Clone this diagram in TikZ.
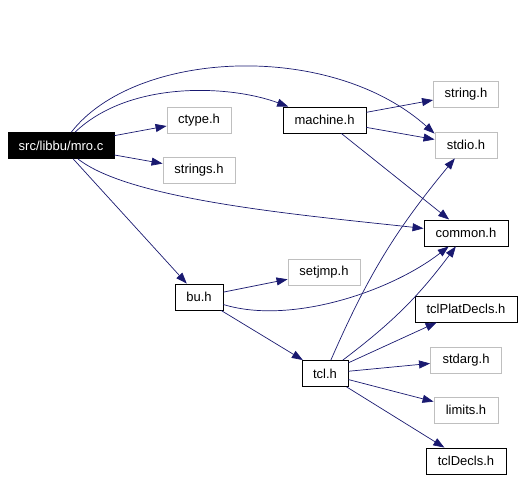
\documentclass[tikz,border=0pt]{standalone}
\usepackage{fontspec}
\setmainfont{Liberation Sans}
\usepackage{tikz}
\usetikzlibrary{arrows.meta}
\definecolor{edgeblue}{RGB}{25,25,112}
\definecolor{boxgray}{RGB}{191,191,191}

\begin{document}
\begin{tikzpicture}[x=1pt, y=-1pt,
		file/.style={draw=black, fill=white, line width=0.9pt, minimum height=26pt, inner sep=0pt,
			font=\fontsize{13}{14}\selectfont},
		sysfile/.style={file, draw=boxgray},
		dep/.style={-{Triangle[length=11pt, width=8pt]}, color=edgeblue, line width=0.7pt}]
		\useasboundingbox (0, 0) rectangle (523, 480);
		% files
		\node[file, fill=black, text=white, minimum width=106pt] (mro) at (61, 145.5) {src/libbu/mro.c};
		\node[sysfile, minimum width=64pt] (ctype) at (199, 120) {ctype.h};
		\node[sysfile, minimum width=72pt] (strings) at (199, 170) {strings.h};
		\node[file, minimum width=83pt] (machine) at (324.5, 120) {machine.h};
		\node[sysfile, minimum width=65pt] (string) at (466, 94) {string.h};
		\node[sysfile, minimum width=62pt] (stdio) at (466, 145) {stdio.h};
		\node[file, minimum width=84pt] (common) at (466, 233) {common.h};
		\node[file, minimum width=48pt] (bu) at (199, 297) {bu.h};
		\node[sysfile, minimum width=72pt] (setjmp) at (324, 272) {setjmp.h};
		\node[file, minimum width=102pt] (tclplat) at (466, 309) {tclPlatDecls.h};
		\node[file, minimum width=46pt] (tcl) at (325, 373.5) {tcl.h};
		\node[sysfile, minimum width=71pt] (stdarg) at (466, 360) {stdarg.h};
		\node[sysfile, minimum width=64pt] (limits) at (466, 410) {limits.h};
		\node[file, minimum width=80pt] (tcldecls) at (466, 461) {tclDecls.h};
		% includes of mro.c
		\draw[dep] (mro) -- (ctype);
		\draw[dep] (mro) -- (strings);
		\draw[dep] (mro) .. controls (130, 80) and (230, 85) .. (machine);
		\draw[dep] (mro) .. controls (135, 50) and (330, 40) .. (stdio.160);
		\draw[dep] (mro) .. controls (130, 200) and (300, 215) .. (common);
		\draw[dep] (mro) -- (bu);
		% machine.h
		\draw[dep] (machine) -- (string);
		\draw[dep] (machine) -- (stdio);
		\draw[dep] (machine) -- (common);
		% bu.h
		\draw[dep] (bu) -- (setjmp);
		\draw[dep] (bu) .. controls (290, 325) and (390, 292) .. (common);
		\draw[dep] (bu) -- (tcl);
		% tcl.h
		\draw[dep] (tcl) to[bend left=8] (stdio);
		\draw[dep] (tcl) to[bend right=8] (common);
		\draw[dep] (tcl) -- (tclplat);
		\draw[dep] (tcl) -- (stdarg);
		\draw[dep] (tcl) -- (limits);
		\draw[dep] (tcl) -- (tcldecls);
	\end{tikzpicture}
\end{document}
